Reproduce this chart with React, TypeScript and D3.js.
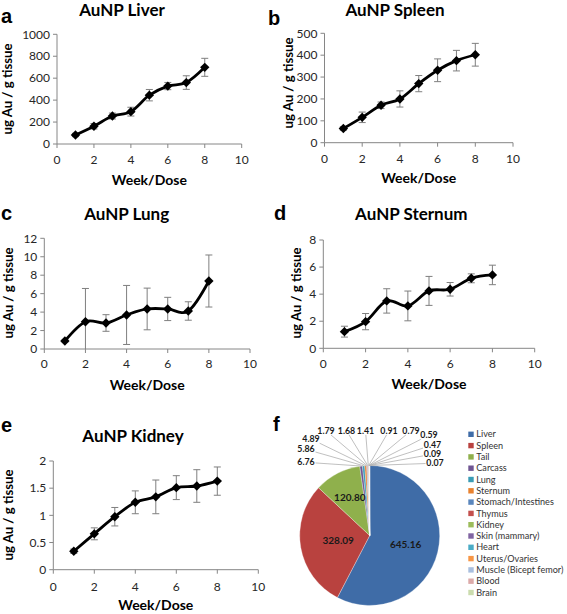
import React from "react";
import * as d3 from "d3";

// ---------- data ----------
const weeks = [1, 2, 3, 4, 5, 6, 7, 8];

const liverMean = [82, 162, 255, 295, 445, 528, 560, 699];
const liverErr = [15, 25, 27, 40, 52, 33, 62, 82];

const spleenMean = [65, 116, 171, 200, 270, 331, 375, 402];
const spleenErr = [8, 24, 15, 37, 37, 52, 47, 52];

const lungMean = [0.87, 2.96, 2.82, 3.69, 4.34, 4.34, 4.12, 7.37];
const lungErr = [0.1, 3.6, 0.9, 3.2, 2.26, 1.26, 1.0, 2.82];

const sternumMean = [1.23, 1.97, 3.5, 3.13, 4.24, 4.36, 5.17, 5.42];
const sternumErr = [0.4, 0.6, 0.9, 1.1, 1.07, 0.5, 0.33, 0.72];

const kidneyMean = [0.34, 0.66, 0.975, 1.24, 1.34, 1.51, 1.54, 1.63];
const kidneyErr = [0.04, 0.11, 0.17, 0.21, 0.31, 0.22, 0.3, 0.26];

const xTicks = [0, 2, 4, 6, 8, 10];
const liverTicks = [0, 200, 400, 600, 800, 1000];
const spleenTicks = [0, 100, 200, 300, 400, 500];
const lungTicks = [0, 2, 4, 6, 8, 10, 12];
const sternumTicks = [0, 2, 4, 6, 8];
const kidneyTicks = [0, 0.5, 1, 1.5, 2];

const organs = [
  "Liver", "Spleen", "Tail", "Carcass", "Lung", "Sternum", "Stomach/Intestines",
  "Thymus", "Kidney", "Skin (mammary)", "Heart", "Uterus/Ovaries",
  "Muscle (Bicept femor)", "Blood", "Brain",
];
const organValues = [
  645.16, 328.09, 120.8, 6.76, 5.86, 4.89, 1.79, 1.68, 1.41, 0.91, 0.79, 0.59, 0.47, 0.09, 0.07,
];
const organColors = [
  "#3f6ca7", "#b9423f", "#8fb04c", "#6f5592", "#3a9cb5", "#e9822f", "#5a86bd",
  "#c4504d", "#9cbc5b", "#8064a2", "#4bacc6", "#f79646", "#a9bfdf", "#dcaaa9", "#cbdcae",
];

// ---------- layout ----------
const FONT = "Lato, 'Open Sans', sans-serif";

type Panel = {
  letter: string; lx: number; ly: number;
  title: string; tx: number; ty: number;
  x0: number; x1: number; yTop: number; yBot: number;
  yMax: number; ticks: number[]; mean: number[]; err: number[];
  ylx: number; yly: number; xlY: number; tickY: number;
};

const panels: Panel[] = [
  { letter: "a", lx: 1, ly: 22.5, title: "AuNP Liver", tx: 122, ty: 16,
    x0: 57, x1: 241.7, yTop: 34.3, yBot: 144, yMax: 1000, ticks: liverTicks,
    mean: liverMean, err: liverErr, ylx: 7.5, yly: 89, xlY: 185, tickY: 164 },
  { letter: "b", lx: 268, ly: 25, title: "AuNP Spleen", tx: 395, ty: 15.5,
    x0: 324.5, x1: 513, yTop: 33.3, yBot: 142.7, yMax: 500, ticks: spleenTicks,
    mean: spleenMean, err: spleenErr, ylx: 288, yly: 83, xlY: 183, tickY: 162.5 },
  { letter: "c", lx: 1, ly: 220, title: "AuNP Lung", tx: 126.7, ty: 220,
    x0: 44.3, x1: 250, yTop: 238.3, yBot: 349, yMax: 12, ticks: lungTicks,
    mean: lungMean, err: lungErr, ylx: 8, yly: 293, xlY: 390, tickY: 367.5 },
  { letter: "d", lx: 274, ly: 220, title: "AuNP Sternum", tx: 411.3, ty: 220,
    x0: 323.3, x1: 534.7, yTop: 240, yBot: 348.3, yMax: 8, ticks: sternumTicks,
    mean: sternumMean, err: sternumErr, ylx: 296.7, yly: 293, xlY: 388.5, tickY: 367.5 },
  { letter: "e", lx: 1, ly: 431.7, title: "AuNP Kidney", tx: 133, ty: 441.7,
    x0: 53.3, x1: 258.3, yTop: 461, yBot: 569.7, yMax: 2, ticks: kidneyTicks,
    mean: kidneyMean, err: kidneyErr, ylx: 8.3, yly: 515, xlY: 610, tickY: 591 },
];

const AXIS = "#868686";
const ERR = "#7f7f7f";

function LinePanel({ p }: { p: Panel }) {
  const x = d3.scaleLinear().domain([0, 10]).range([p.x0, p.x1]);
  const y = d3.scaleLinear().domain([0, p.yMax]).range([p.yBot, p.yTop]);
  const line = d3
    .line<number>()
    .x((_, i) => x(weeks[i]))
    .y((d) => y(d))
    .curve(d3.curveCardinal.tension(0));
  const diamond = d3.symbol().type(d3.symbolSquare).size(44)() as string;
  return (
    <g>
      <text x={p.lx} y={p.ly} fontFamily="Arial, 'Liberation Sans', sans-serif" fontWeight="bold" fontSize={20} fill="#000">
        {p.letter}
      </text>
      <text x={p.tx} y={p.ty} textAnchor="middle" fontFamily={FONT} fontWeight="bold" fontSize={17} fill="#000">
        {p.title}
      </text>
      <line x1={p.x0} x2={p.x1} y1={p.yBot} y2={p.yBot} stroke={AXIS} strokeWidth={1} />
      <line x1={p.x0} x2={p.x0} y1={p.yTop} y2={p.yBot} stroke={AXIS} strokeWidth={1} />
      {p.ticks.map((t) => (
        <g key={"y" + t}>
          <line x1={p.x0 - 4} x2={p.x0} y1={y(t)} y2={y(t)} stroke={AXIS} strokeWidth={1} />
          <text x={p.x0 - 7} y={y(t)} dy="0.35em" textAnchor="end" fontFamily={FONT} fontSize={12} fill="#262626">
            {String(t)}
          </text>
        </g>
      ))}
      {xTicks.map((t) => (
        <g key={"x" + t}>
          <line x1={x(t)} x2={x(t)} y1={p.yBot} y2={p.yBot + 4} stroke={AXIS} strokeWidth={1} />
          <text x={x(t)} y={p.tickY} textAnchor="middle" fontFamily={FONT} fontSize={12} fill="#262626">
            {String(t)}
          </text>
        </g>
      ))}
      <text x={(p.x0 + p.x1) / 2} y={p.xlY} textAnchor="middle" fontFamily={FONT} fontWeight="bold" fontSize={14} fill="#000">
        Week/Dose
      </text>
      <text
        transform={`translate(${p.ylx},${p.yly}) rotate(-90)`}
        textAnchor="middle"
        dy="0.35em"
        fontFamily={FONT}
        fontWeight="bold"
        fontSize={13.2}
        fill="#000"
      >
        ug Au / g tissue
      </text>
      {p.mean.map((m, i) => {
        const lo = y(Math.max(0, m - p.err[i]));
        const hi = y(m + p.err[i]);
        const cx = x(weeks[i]);
        return (
          <g key={"e" + i} stroke={ERR} strokeWidth={1}>
            <line x1={cx} x2={cx} y1={lo} y2={hi} />
            <line x1={cx - 3.5} x2={cx + 3.5} y1={hi} y2={hi} />
            {m - p.err[i] >= 0 && <line x1={cx - 3.5} x2={cx + 3.5} y1={lo} y2={lo} />}
          </g>
        );
      })}
      <path d={line(p.mean) || ""} fill="none" stroke="#000" strokeWidth={2.8} />
      {p.mean.map((m, i) => (
        <path key={"m" + i} d={diamond} transform={`translate(${x(weeks[i])},${y(m)}) rotate(45)`} fill="#000" />
      ))}
    </g>
  );
}

// pie layout
const PCX = 369.7;
const PCY = 535.5;
const PR = 70;
const bigLabelRadius = [37, 32, 43];
const smallLabelCenters: [number, number][] = [
  [306, 462.3], [306, 449.3], [311, 439], [326, 430.7], [346.5, 430.7], [365.5, 430.7],
  [389, 430.7], [411, 430.7], [429, 435.2], [432.5, 445], [432.5, 454.2], [435, 463.2],
];

function clipToBox(px: number, py: number, cx: number, cy: number, hw: number, hh: number) {
  const dx = px - cx;
  const dy = py - cy;
  const tx = dx !== 0 ? hw / Math.abs(dx) : Infinity;
  const ty = dy !== 0 ? hh / Math.abs(dy) : Infinity;
  const t = Math.min(tx, ty, 1);
  return [cx + dx * t, cy + dy * t];
}

function PiePanel() {
  const pie = d3.pie<number>().sort(null).value((d) => d);
  const arcs = pie(organValues);
  const arc = d3.arc<d3.PieArcDatum<number>>().innerRadius(0).outerRadius(PR);
  return (
    <g>
      <text x={273} y={431} fontFamily="Arial, 'Liberation Sans', sans-serif" fontWeight="bold" fontSize={20} fill="#000">
        f
      </text>
      <g transform={`translate(${PCX},${PCY})`}>
        {arcs.map((a, i) => (
          <path key={i} d={arc(a) || ""} fill={organColors[i]} stroke="#fff" strokeWidth={0.3} />
        ))}
        {arcs.slice(0, 3).map((a, i) => {
          const mid = (a.startAngle + a.endAngle) / 2;
          const r = bigLabelRadius[i];
          return (
            <text
              key={"bl" + i}
              x={r * Math.sin(mid)}
              y={-r * Math.cos(mid)}
              dy="0.35em"
              textAnchor="middle"
              fontFamily={FONT}
              fontWeight="bold"
              fontSize={10}
              fill="#1a1a1a"
            >
              {organValues[i].toFixed(2)}
            </text>
          );
        })}
      </g>
      {arcs.slice(3).map((a, j) => {
        const i = j + 3;
        const mid = (a.startAngle + a.endAngle) / 2;
        const ex = PCX + PR * Math.sin(mid);
        const ey = PCY - PR * Math.cos(mid);
        const [cx, cy] = smallLabelCenters[j];
        const [sx, sy] = clipToBox(ex, ey, cx, cy, 9.5, 4.2);
        return (
          <g key={"sl" + i}>
            <line x1={sx} y1={sy} x2={ex} y2={ey} stroke="#b0b0b0" strokeWidth={0.8} />
            <text x={cx} y={cy} dy="0.35em" textAnchor="middle" fontFamily={FONT} fontWeight="bold" fontSize={8.8} fill="#1a1a1a">
              {organValues[i].toFixed(2)}
            </text>
          </g>
        );
      })}
      {organs.map((o, i) => (
        <g key={"lg" + i} transform={`translate(468.3,${434.3 + i * 11.3})`}>
          <rect x={0} y={-2.7} width={5.4} height={5.4} fill={organColors[i]} />
          <text x={8} y={0} dy="0.35em" fontFamily={FONT} fontSize={9.1} fill="#333">
            {o}
          </text>
        </g>
      ))}
    </g>
  );
}

export default function App() {
  return (
    <svg width={567} height={614} style={{ position: "absolute", left: 0, top: 0, background: "#fff" }}>
      <rect width={567} height={614} fill="#fff" />
      {panels.map((p) => (
        <LinePanel key={p.letter} p={p} />
      ))}
      <PiePanel />
    </svg>
  );
}
